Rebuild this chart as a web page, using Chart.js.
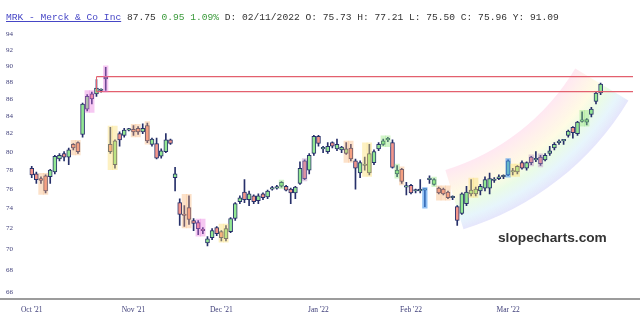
<!DOCTYPE html>
<html><head><meta charset="utf-8">
<script src="https://cdn.jsdelivr.net/npm/chart.js@4.4.1/dist/chart.umd.min.js"></script>
<style>
html,body{margin:0;padding:0;background:#fff;}
#wrap{position:relative;width:640px;height:323px;overflow:hidden;background:#fff;}
canvas{position:absolute;left:0;top:0;}
#hdr{position:absolute;left:6px;top:12px;font-family:'Liberation Mono',monospace;font-size:9.6px;line-height:12px;color:#333;white-space:pre;}
#hdr .sym{color:#4646c6;text-decoration:underline;}
#hdr .chg{color:#3a9a3a;}
#wm{position:absolute;left:498px;top:231px;font-family:'Liberation Sans',Arial,sans-serif;font-weight:bold;font-size:13.7px;line-height:14px;color:#333;}
</style></head><body>
<div id="wrap">
<canvas id="c" width="640" height="323"></canvas>
<div id="hdr"><span class="sym">MRK - Merck &amp; Co Inc</span> 87.75 <span class="chg">0.95 1.09%</span> D: 02/11/2022 O: 75.73 H: 77.21 L: 75.50 C: 75.96 Y: 91.09</div>
<div id="wm">slopecharts.com</div>
</div>
<script>
// ---- data ----
const opens  = [78.2,77.6,77.1,77.4,77.3,77.8,79.2,79.8,79.4,80.8,81.0,81.9,84.8,86.6,86.6,87.0,88.4,80.8,78.6,82.0,
                81.8,82.4,82.5,82.6,82.2,82.9,80.8,80.9,79.5,80.0,81.3,77.2,74.6,73.4,74.1,72.8,72.6,71.9,70.6,71.1,
                72.1,71.7,71.0,71.7,73.0,74.7,75.7,74.9,75.3,74.8,75.5,75.2,76.0,76.1,76.3,76.3,76.0,75.6,76.6,79.0,
                78.0,79.8,81.7,80.3,80.0,81.0,80.3,80.2,79.8,80.4,79.0,77.7,78.5,77.7,78.8,80.3,80.8,81.3,81.0,77.6,
                78.1,76.2,76.4,75.8,75.8,75.9,77.0,76.5,76.1,76.0,75.7,75.1,74.2,73.5,74.5,75.5,75.5,75.8,76.1,76.1,
                76.9,77.1,77.3,77.5,77.8,77.8,78.8,78.2,79.4,79.1,79.4,79.1,79.8,80.4,81.0,81.2,81.8,82.7,82.0,83.4,
                83.3,84.2,85.7,86.7];
const highs  = [78.4,77.8,77.3,77.5,78.1,79.6,79.8,80.0,80.4,80.9,81.1,85.5,86.5,86.8,88.3,87.2,89.8,82.7,81.3,82.2,
                82.6,82.6,82.9,82.8,83.1,83.2,81.5,81.5,80.3,82.0,81.4,78.3,75.0,74.3,75.3,73.0,72.8,72.1,71.2,72.0,
                72.2,71.8,72.3,73.1,74.6,75.3,77.0,75.8,75.4,75.5,75.6,75.9,76.3,76.4,76.8,76.4,76.1,76.3,78.9,79.1,
                79.8,81.8,81.8,80.6,81.0,81.1,81.4,80.6,81.0,80.8,79.2,79.0,79.4,80.8,80.2,81.0,81.4,81.6,81.3,78.5,
                78.2,76.7,76.5,76.0,77.0,76.0,77.4,77.1,76.2,76.1,75.8,75.3,74.3,75.6,76.3,77.0,76.2,76.5,77.3,77.7,
                77.2,77.5,77.5,79.1,78.2,78.5,79.0,78.9,79.5,80.0,79.6,79.8,80.6,81.0,81.3,81.3,82.4,82.8,83.4,84.5,
                83.7,85.0,86.8,87.9];
const lows   = [77.2,76.6,76.6,75.6,76.6,77.6,79.0,79.0,78.6,80.2,79.8,81.6,84.6,85.4,86.3,86.8,87.0,79.8,78.2,80.6,
                81.6,82.3,81.8,81.9,82.0,81.0,80.6,79.2,79.3,79.9,80.8,75.8,72.3,72.2,72.4,71.8,71.4,71.5,70.3,70.9,
                71.3,70.8,70.8,71.6,72.8,74.5,74.6,74.3,74.5,74.5,74.9,75.0,75.9,76.0,76.2,75.8,74.5,75.0,76.5,77.0,
                77.6,79.6,80.6,79.9,79.8,80.4,80.1,79.9,79.7,79.0,76.0,77.2,78.0,77.5,78.6,80.1,80.7,81.1,78.2,77.3,
                76.6,75.4,75.5,75.6,75.6,74.2,76.6,76.4,75.5,75.4,75.0,74.9,72.3,73.4,74.3,75.3,75.3,75.4,75.8,75.5,
                76.7,77.0,77.1,77.4,77.5,77.6,78.1,78.0,78.6,78.9,78.5,79.0,79.6,80.2,80.8,80.8,81.6,81.5,81.8,83.3,
                83.0,83.9,85.4,86.5];
const closes = [77.5,77.0,76.9,75.8,78.0,79.5,79.6,79.4,80.2,80.4,80.0,85.4,86.3,86.0,87.3,87.0,88.6,80.0,81.2,81.3,
                82.4,82.5,82.2,82.2,82.6,81.2,81.4,79.3,80.1,81.3,80.9,77.6,73.4,73.3,72.9,72.5,72.0,71.8,71.0,71.8,
                71.5,71.1,72.0,73.0,74.5,75.1,74.9,75.5,74.7,75.3,75.1,75.8,76.1,76.2,76.7,75.9,75.6,76.2,78.2,77.1,
                79.6,81.7,80.9,80.3,80.6,80.6,80.8,80.5,80.3,79.2,78.2,78.8,78.5,79.8,80.0,80.8,81.2,81.4,78.3,78.0,
                76.8,76.2,75.6,75.8,76.0,75.9,77.0,77.0,75.6,75.5,75.1,75.1,72.8,75.5,75.7,75.9,76.0,76.3,77.0,77.1,
                76.9,77.3,77.3,79.0,77.9,78.4,78.2,78.8,78.8,79.1,78.7,79.6,80.1,80.8,81.0,81.2,82.3,82.1,83.3,83.4,
                83.6,84.8,86.7,87.75];
// month tick labels: [candle index, label]
const monthTicks = [[0,"Oct '21"],[22,"Nov '21"],[41,"Dec '21"],[62,"Jan '22"],[82,"Feb '22"],[103,"Mar '22"]];
const yTicks = [66,68,70,72,74,76,78,80,82,84,86,88,90,92,94];
// horizontal resistance levels and the candle they start from
const levels = [88.66, 86.86];
const levelStart = 14;
// candlestick pattern highlights: [first index, last index, kind]
const patterns = [[2,3,'orange'],[9,10,'orange'],[12,13,'magenta'],[16,16,'magenta'],[17,18,'yellow'],
  [22,23,'orange'],[25,25,'orange'],[33,34,'orange'],[36,37,'magenta'],[41,42,'yellow'],[54,54,'green'],
  [59,59,'purple'],[68,69,'orange'],[72,73,'yellow'],[76,77,'green'],[79,79,'green'],[80,80,'orange'],
  [85,85,'blue'],[87,87,'green'],[88,90,'orange'],[95,96,'yellow'],[103,103,'blue'],[104,105,'yellow'],
  [108,108,'purple'],[110,110,'purple'],[119,120,'green']];
const emptySlotsAfter = 7;

// ---- build ----
const nC = opens.length;
const N = nC + emptySlotsAfter;
const labels = Array.from({length:N},(_,i)=>String(i));
const monthAt = {}; monthTicks.forEach(([i,l])=>monthAt[i]=l);
const UP='#93e893', DOWN='#f4968c', EDGE='#27306a';
const hlColors = {orange:'rgba(247,176,112,0.38)',yellow:'rgba(250,222,110,0.42)',magenta:'rgba(232,110,222,0.38)',
  green:'rgba(140,228,120,0.4)',blue:'rgba(70,150,235,0.6)',purple:'rgba(185,140,195,0.42)'};

const bodies = opens.map((o,i)=>[o,closes[i]]);
const bodyColors = opens.map((o,i)=> closes[i]>=o ? UP : DOWN);
const wicks = lows.map((l,i)=>[l,highs[i]]);
const hlData = new Array(nC).fill(null), hlBg = new Array(nC).fill('rgba(0,0,0,0)');
patterns.forEach(([a,b,k])=>{
  let lo=Infinity, hi=-Infinity;
  for(let i=a;i<=b;i++){lo=Math.min(lo,lows[i]);hi=Math.max(hi,highs[i]);}
  for(let i=a;i<=b;i++){hlData[i]=[lo*0.998,hi*1.002];hlBg[i]=hlColors[k];}
});
const levelSets = levels.map(v=>labels.map((_,i)=> i>=levelStart ? v : null));

const decor = {
  id:'decor',
  beforeDatasetsDraw(chart){
    const {ctx, chartArea:ca} = chart;
    // rainbow band (decoration)
    const cx = ca.left + 0.5755*ca.width, cy = ca.top - 72, r0 = 230, r1 = 292;
    const a0 = 31*Math.PI/180, a1 = 73*Math.PI/180;
    const g = ctx.createRadialGradient(cx,cy,r0,cx,cy,r1);
    g.addColorStop(0,'rgba(255,165,205,0.26)');
    g.addColorStop(0.22,'rgba(255,205,175,0.26)');
    g.addColorStop(0.42,'rgba(255,243,165,0.30)');
    g.addColorStop(0.62,'rgba(185,243,175,0.30)');
    g.addColorStop(0.82,'rgba(175,222,245,0.30)');
    g.addColorStop(1,'rgba(180,180,245,0.34)');
    ctx.save();
    ctx.beginPath();
    ctx.arc(cx,cy,r1,a0,a1);
    ctx.arc(cx,cy,r0,a1,a0,true);
    ctx.closePath();
    ctx.fillStyle = g; ctx.fill();
    ctx.restore();
  },
  afterDraw(chart){
    const {ctx, chartArea:ca, scales:{x,y}} = chart;
    ctx.save();
    const px = Math.round(x.getPixelForValue(levelStart))+0.5;
    ctx.strokeStyle='#e3606e'; ctx.lineWidth=1;
    ctx.beginPath(); ctx.moveTo(px,y.getPixelForValue(levels[0])); ctx.lineTo(px,y.getPixelForValue(levels[1])); ctx.stroke();
    ctx.strokeStyle='#9c9c9c'; ctx.lineWidth=2;
    ctx.beginPath(); ctx.moveTo(0,ca.bottom); ctx.lineTo(chart.width,ca.bottom); ctx.stroke();
    ctx.restore();
  }
};

const datasets = [
  {type:'bar', data:hlData, backgroundColor:hlBg, barPercentage:1, categoryPercentage:1, grouped:false, order:-1},
  {type:'bar', data:wicks, backgroundColor:EDGE, barThickness:1, grouped:false, order:2},
  {type:'bar', data:bodies, backgroundColor:bodyColors, borderColor:EDGE, borderWidth:1, borderSkipped:false,
   barThickness:4, minBarLength:1.5, grouped:false, order:1},
];
levelSets.forEach(d=>datasets.push({type:'line', data:d, borderColor:'#e3606e', borderWidth:1.3, pointRadius:0,
  spanGaps:false, fill:false, order:0}));

new Chart(document.getElementById('c'),{
  type:'bar',
  data:{labels, datasets},
  options:{
    responsive:false, animation:false, events:[],
    layout:{padding:{left:6,top:22,right:1.45,bottom:0}},
    plugins:{legend:{display:false},tooltip:{enabled:false},title:{display:false}},
    scales:{
      x:{type:'category', offset:true,
        grid:{display:false,drawTicks:false}, border:{display:false},
        ticks:{autoSkip:false,maxRotation:0,minRotation:0,padding:7,color:'#3d3d78',
          font:{family:"'Liberation Serif', serif",size:7.5},
          callback:(v,i)=> monthAt[i] || ''},
        afterFit:s=>{s.height=24;}},
      y:{type:'logarithmic', position:'left', min:65.373, max:95.559,
        grid:{display:false,drawTicks:false}, border:{display:false},
        afterBuildTicks:s=>{s.ticks = yTicks.map(v=>({value:v}));},
        ticks:{autoSkip:false,crossAlign:'far',padding:0,color:'#3d3d78',
          font:{family:"'Liberation Serif', serif",size:7},
          callback:v=>String(v)},
        afterFit:s=>{s.width=23.4;}}
    }
  },
  plugins:[decor]
});
</script>
</body></html>
